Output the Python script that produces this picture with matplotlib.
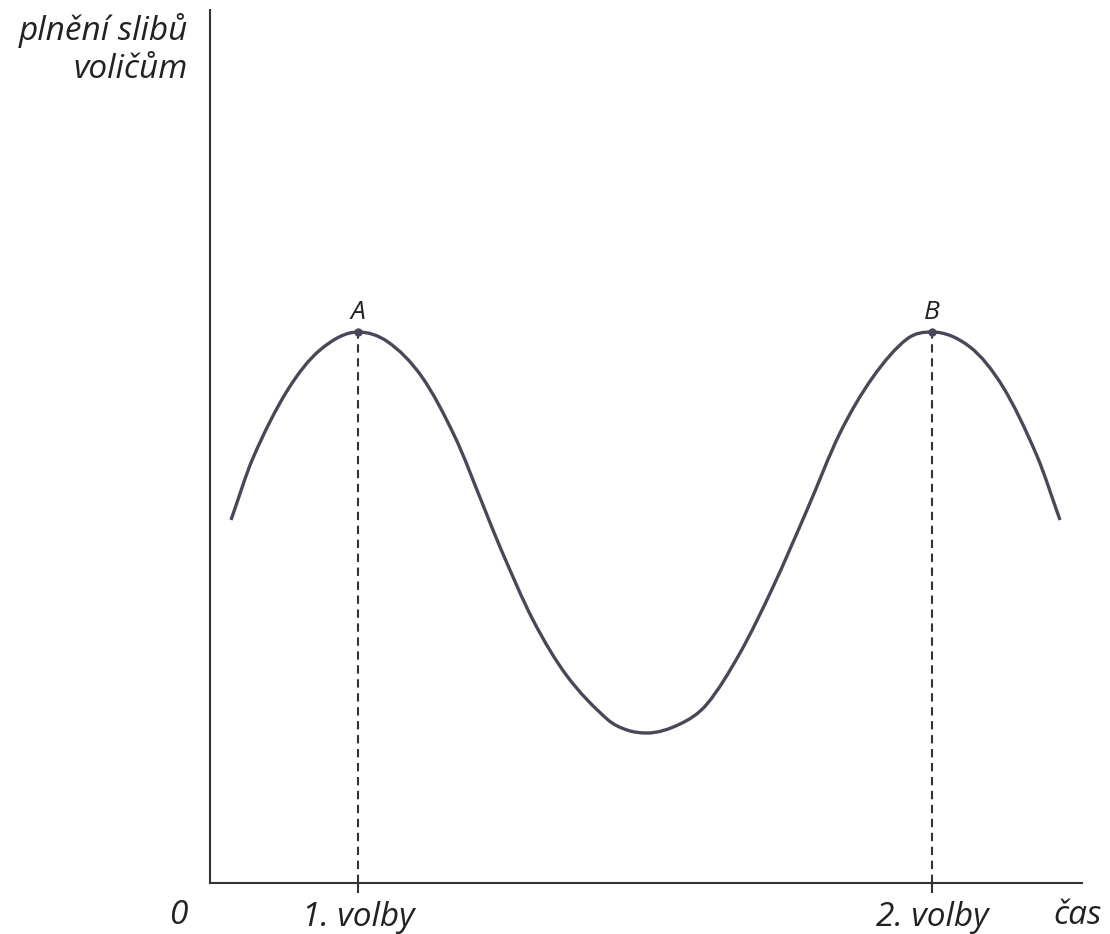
import matplotlib
matplotlib.use("Agg")
import matplotlib.pyplot as plt
from matplotlib.path import Path
from matplotlib.patches import PathPatch

# ---------------------------
# Data
# ---------------------------
# curve of kept promises over time (arbitrary units)
curve_x = [0.21, 0.43, 0.77, 1.10, 1.48, 1.78, 2.12, 2.45, 2.73, 2.90,
           3.23, 3.57, 3.97, 4.17, 4.37, 4.70, 4.97, 5.30, 5.63, 5.97,
           6.30, 6.63, 6.97, 7.22, 7.60, 7.93, 8.27, 8.50]
curve_y = [3.63, 4.25, 4.92, 5.33, 5.51, 5.41, 5.06, 4.46, 3.78, 3.36,
           2.63, 2.07, 1.64, 1.53, 1.50, 1.59, 1.79, 2.30, 2.96, 3.73,
           4.50, 5.06, 5.44, 5.51, 5.36, 4.96, 4.27, 3.63]

# elections = the two peaks A and B
peak_x = [1.48, 7.22]
peak_y = [5.51, 5.51]
peak_labels = ["A", "B"]
tick_labels = ["1. volby", "2. volby"]

X_MAX = 8.72
Y_MAX = 8.73

CURVE_COLOR = "#4a4858"
AXIS_COLOR = "#333333"
TEXT_COLOR = "#222222"
FONT = "Open Sans"


def smooth_path(xs, ys):
    """Bezier path through the read points (Hermite handles, flat at extrema)"""
    n = len(xs)
    slopes = []
    for i in range(n):
        if i == 0:
            m = (ys[1] - ys[0]) / (xs[1] - xs[0])
        elif i == n - 1:
            m = (ys[-1] - ys[-2]) / (xs[-1] - xs[-2])
        elif (ys[i] - ys[i - 1]) * (ys[i + 1] - ys[i]) <= 0:
            m = 0.0
        else:
            m = (ys[i + 1] - ys[i - 1]) / (xs[i + 1] - xs[i - 1])
        slopes.append(m)

    verts = [(xs[0], ys[0])]
    codes = [Path.MOVETO]
    for i in range(n - 1):
        h = (xs[i + 1] - xs[i]) / 3
        verts += [(xs[i] + h, ys[i] + slopes[i] * h),
                  (xs[i + 1] - h, ys[i + 1] - slopes[i + 1] * h),
                  (xs[i + 1], ys[i + 1])]
        codes += [Path.CURVE4] * 3
    return Path(verts, codes)


# ---------------------------
# Figure
# ---------------------------
fig = plt.figure(figsize=(11.1, 9.34), dpi=100)
ax = fig.add_axes([210 / 1110, 51 / 934, 872 / 1110, 873 / 934])
ax.set_xlim(0, X_MAX)
ax.set_ylim(0, Y_MAX)

for side in ["top", "right"]:
    ax.spines[side].set_visible(False)
for side in ["left", "bottom"]:
    ax.spines[side].set_color(AXIS_COLOR)
    ax.spines[side].set_linewidth(1.5)

ax.add_patch(PathPatch(smooth_path(curve_x, curve_y), fill=False,
                       edgecolor=CURVE_COLOR, lw=2.4, capstyle="butt",
                       joinstyle="round", zorder=3))

# dashed drop lines + peak dots
for px, py, lab in zip(peak_x, peak_y, peak_labels):
    ax.plot([px, px], [0, py], color=AXIS_COLOR, lw=1.5,
            linestyle=(0, (4, 2.7)), zorder=2)
    ax.plot(px, py, "o", color=CURVE_COLOR, ms=5, zorder=4)
    ax.annotate(lab, (px, py), xytext=(0, 5), textcoords="offset points",
                ha="center", va="bottom", fontsize=19, style="italic",
                family=FONT, color=TEXT_COLOR)

ax.set_yticks([])
ax.set_xticks(peak_x)
ax.set_xticklabels(tick_labels, fontsize=24, style="italic",
                   family=FONT, color=TEXT_COLOR)
ax.tick_params(axis="x", direction="out", length=7, width=1.5,
               color=AXIS_COLOR, pad=6)

# axis captions
fig.text(178 / 1110, 1 - 916 / 934, "0", ha="center", va="center",
         fontsize=24, style="italic", family=FONT, color=TEXT_COLOR)
fig.text(1078 / 1110, 1 - 916 / 934, "čas", ha="center", va="center",
         fontsize=24, style="italic", family=FONT, color=TEXT_COLOR)
fig.text(188 / 1110, 1 - 50 / 934, "plnění slibů\nvoličům", ha="right",
         va="center", fontsize=24, style="italic", family=FONT,
         color=TEXT_COLOR, linespacing=1.2, multialignment="right")

fig.savefig("out.png", dpi=100, facecolor="white")
